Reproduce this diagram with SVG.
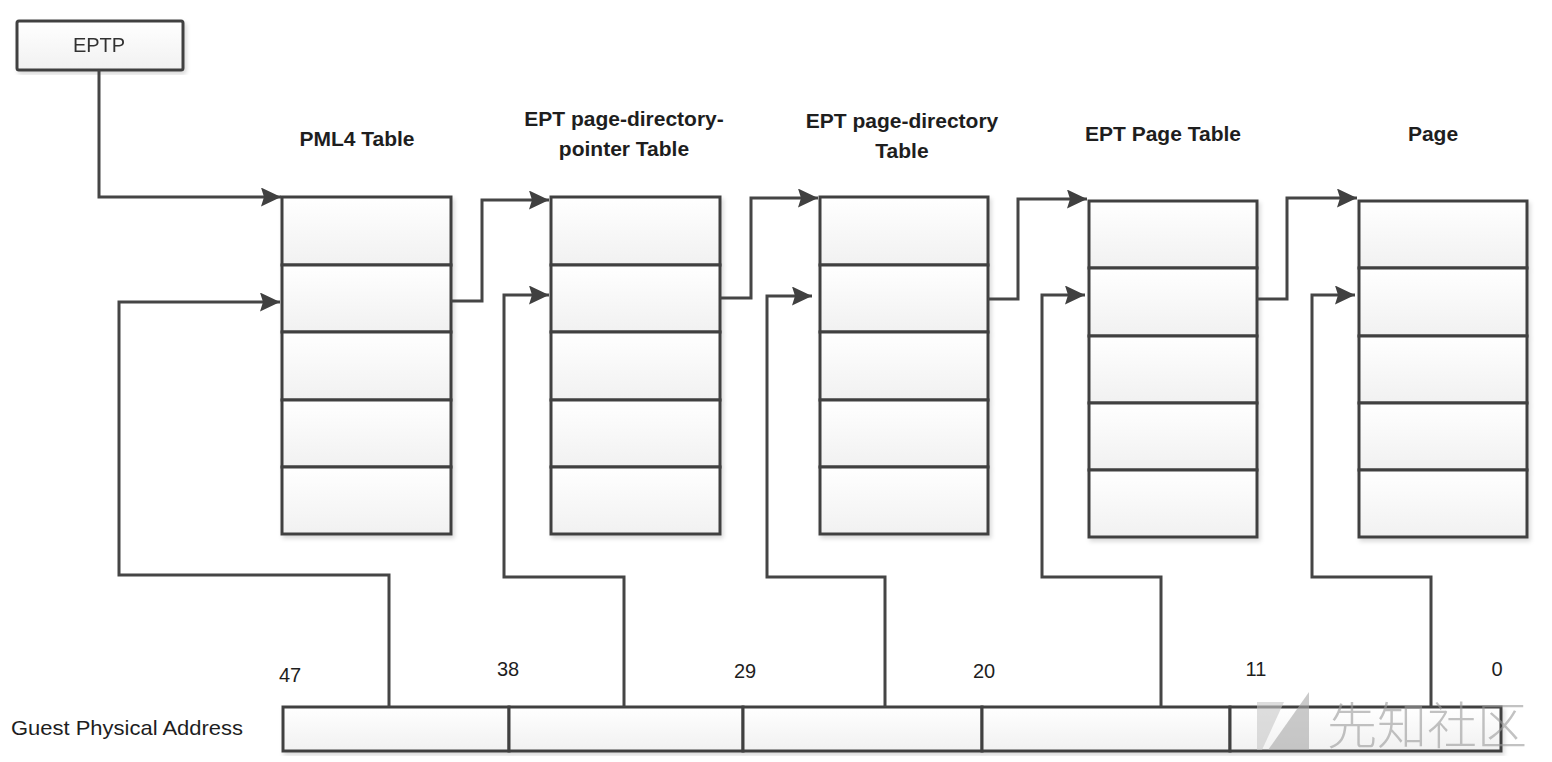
<svg xmlns="http://www.w3.org/2000/svg" width="1552" height="762" viewBox="0 0 1552 762">
  <style>
    .cell { fill: url(#cellGrad); stroke: #404040; stroke-width: 3; }
    .conn { fill: none; stroke: #454545; stroke-width: 3; stroke-linejoin: miter; }
    .hdr { font-family: "Liberation Sans", Arial, sans-serif; font-size: 21px; font-weight: bold; fill: #1e1e1e; text-anchor: middle; }
    .num { font-family: "Liberation Sans", Arial, sans-serif; font-size: 20px; fill: #1e1e1e; text-anchor: middle; }
    .lbl { font-family: "Liberation Sans", Arial, sans-serif; font-size: 21px; fill: #1e1e1e; }
  </style>
  <defs>
    <linearGradient id="cellGrad" x1="0" y1="0" x2="0" y2="1">
      <stop offset="0" stop-color="#ffffff"/>
      <stop offset="1" stop-color="#f1f1f1"/>
    </linearGradient>
    <filter id="shadow" x="-10%" y="-10%" width="120%" height="120%">
      <feDropShadow dx="2" dy="3" stdDeviation="2" flood-color="#000" flood-opacity="0.15"/>
    </filter>
    <marker id="arrow" markerUnits="userSpaceOnUse" markerWidth="21" markerHeight="19" refX="20" refY="9.5" orient="auto">
      <path d="M0,0 L20,9.5 L0,19 L3,9.5 Z" fill="#404040"/>
    </marker>
  </defs>
  <rect width="1552" height="762" fill="#ffffff"/>

  <!-- EPTP -->
  <g id="eptp" filter="url(#shadow)">
    <rect class="cell" x="17" y="21" width="166" height="49" rx="2"/>
    <text x="99" y="52" class="num" style="fill:#333">EPTP</text>
  </g>

  <!-- PML4 Table -->
  <g id="pml4">
    <text x="357" y="146" class="hdr">PML4 Table</text>
    <g filter="url(#shadow)">
      <rect class="cell" x="282" y="197" width="169" height="68"/>
      <rect class="cell" x="282" y="265" width="169" height="67"/>
      <rect class="cell" x="282" y="332" width="169" height="68"/>
      <rect class="cell" x="282" y="400" width="169" height="67"/>
      <rect class="cell" x="282" y="467" width="169" height="67"/>
    </g>
  </g>

  <!-- EPT page-directory-pointer Table -->
  <g id="pdpt">
    <text x="624" y="126" class="hdr">EPT page-directory-</text>
    <text x="624" y="156" class="hdr">pointer Table</text>
    <g filter="url(#shadow)">
      <rect class="cell" x="551" y="197" width="169" height="68"/>
      <rect class="cell" x="551" y="265" width="169" height="67"/>
      <rect class="cell" x="551" y="332" width="169" height="68"/>
      <rect class="cell" x="551" y="400" width="169" height="67"/>
      <rect class="cell" x="551" y="467" width="169" height="67"/>
    </g>
  </g>

  <!-- EPT page-directory Table -->
  <g id="pd">
    <text x="902" y="128" class="hdr">EPT page-directory</text>
    <text x="902" y="158" class="hdr">Table</text>
    <g filter="url(#shadow)">
      <rect class="cell" x="820" y="197" width="168" height="68"/>
      <rect class="cell" x="820" y="265" width="168" height="67"/>
      <rect class="cell" x="820" y="332" width="168" height="68"/>
      <rect class="cell" x="820" y="400" width="168" height="67"/>
      <rect class="cell" x="820" y="467" width="168" height="67"/>
    </g>
  </g>

  <!-- EPT Page Table -->
  <g id="pt">
    <text x="1163" y="141" class="hdr">EPT Page Table</text>
    <g filter="url(#shadow)">
      <rect class="cell" x="1089" y="201" width="168" height="67"/>
      <rect class="cell" x="1089" y="268" width="168" height="68"/>
      <rect class="cell" x="1089" y="336" width="168" height="67"/>
      <rect class="cell" x="1089" y="403" width="168" height="67"/>
      <rect class="cell" x="1089" y="470" width="168" height="67"/>
    </g>
  </g>

  <!-- Page -->
  <g id="page">
    <text x="1433" y="141" class="hdr">Page</text>
    <g filter="url(#shadow)">
      <rect class="cell" x="1359" y="201" width="168" height="67"/>
      <rect class="cell" x="1359" y="268" width="168" height="68"/>
      <rect class="cell" x="1359" y="336" width="168" height="67"/>
      <rect class="cell" x="1359" y="403" width="168" height="67"/>
      <rect class="cell" x="1359" y="470" width="168" height="67"/>
    </g>
  </g>

  <!-- Guest Physical Address -->
  <g id="gpa">
    <text x="11" y="735" class="lbl" textLength="232" lengthAdjust="spacingAndGlyphs">Guest Physical Address</text>
    <g filter="url(#shadow)">
      <rect class="cell" x="283" y="707" width="226" height="44"/>
      <rect class="cell" x="509" y="707" width="234" height="44"/>
      <rect class="cell" x="743" y="707" width="239" height="44"/>
      <rect class="cell" x="982" y="707" width="248" height="44"/>
      <rect class="cell" x="1230" y="707" width="271" height="44"/>
    </g>
    <text x="290" y="682" class="num">47</text>
    <text x="508" y="676" class="num">38</text>
    <text x="745" y="678" class="num">29</text>
    <text x="984" y="678" class="num">20</text>
    <text x="1256" y="676" class="num">11</text>
    <text x="1497" y="676" class="num">0</text>
  </g>

  <!-- Connectors -->
  <g id="connectors">
    <path class="conn" d="M99,70 V197 H281" marker-end="url(#arrow)"/>
    <path class="conn" d="M451,301 H482 V200 H549" marker-end="url(#arrow)"/>
    <path class="conn" d="M720,298 H751 V198 H818" marker-end="url(#arrow)"/>
    <path class="conn" d="M988,299 H1018 V199 H1087" marker-end="url(#arrow)"/>
    <path class="conn" d="M1257,299 H1287 V198 H1357" marker-end="url(#arrow)"/>

    <path class="conn" d="M389,707 V575 H119 V302 H280" marker-end="url(#arrow)"/>
    <path class="conn" d="M624,707 V577 H504 V295 H549" marker-end="url(#arrow)"/>
    <path class="conn" d="M885,707 V577 H767 V296 H812" marker-end="url(#arrow)"/>
    <path class="conn" d="M1161,707 V577 H1042 V295 H1085" marker-end="url(#arrow)"/>
    <path class="conn" d="M1431,707 V577 H1312 V295 H1355" marker-end="url(#arrow)"/>
  </g>

  <!-- Watermark -->
  <g id="watermark" opacity="0.6">
    <polygon points="1257,702 1284,702 1262,750 1257,750" fill="#c8c8c8"/>
    <polygon points="1309,692 1309,750 1268,750" fill="#a8a8a8"/>
    <text x="1327" y="744" font-family="'Noto Sans CJK SC', sans-serif" font-size="50" font-weight="300" fill="#9a9a9a">先知社区</text>
  </g>
</svg>
